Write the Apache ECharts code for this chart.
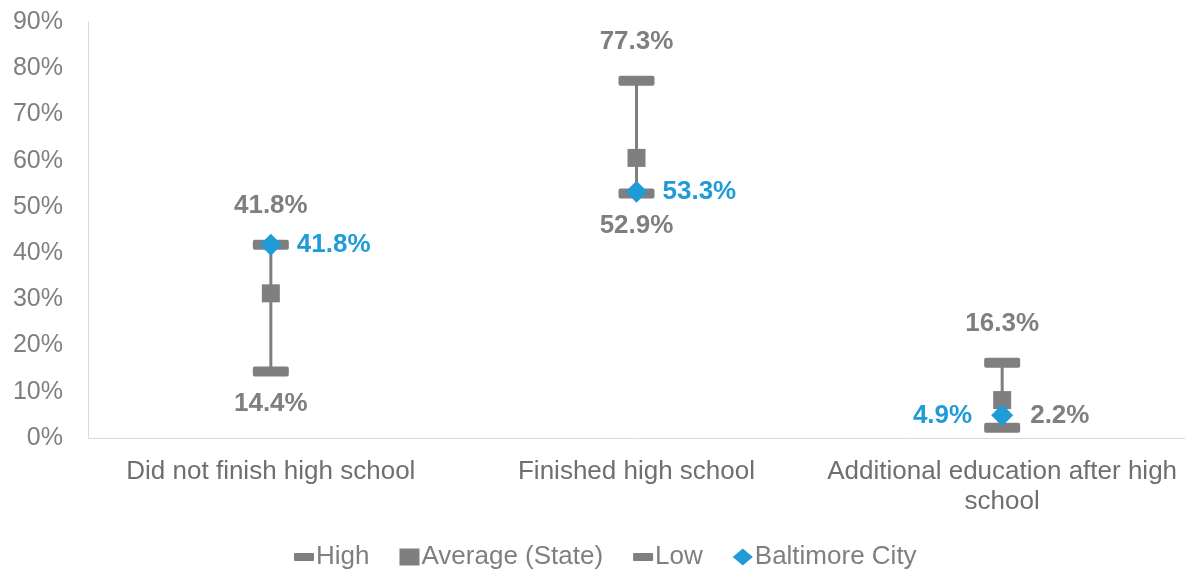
<!DOCTYPE html>
<html>
<head>
<meta charset="utf-8">
<script src="https://cdn.jsdelivr.net/npm/echarts@6/dist/echarts.min.js"></script>
<style>
  html, body { margin: 0; padding: 0; background: #fff; }
  #main { width: 1186px; height: 569px; }
</style>
</head>
<body>
<div id="main"></div>
<script>
var categories = ['Did not finish high school', 'Finished high school', 'Additional education after high\nschool'];
var highVals = [41.8, 77.3, 16.3];
var avgVals = [31.3, 60.6, 8.2];
var lowVals = [14.4, 52.9, 2.2];
var cityVals = [41.8, 53.3, 4.9];

var grey = '#7f7f7f';
var blue = '#1f9bd8';
var font = 'Liberation Sans, Arial, sans-serif';
var dash = 'path://M2,0h32a2,2 0 0 1 2,2v6a2,2 0 0 1 -2,2h-32a2,2 0 0 1 -2,-2v-6a2,2 0 0 1 2,-2z';
var legendDash = 'path://M1,0h18a1,1 0 0 1 1,1v6a1,1 0 0 1 -1,1h-18a1,1 0 0 1 -1,-1v-6a1,1 0 0 1 1,-1z';

var chart = echarts.init(document.getElementById('main'));

// low-high connecting lines
var rangeData = categories.map(function (c, i) {
    return [i, lowVals[i], highVals[i]];
});

var lowData = lowVals.map(function (v, i) {
    if (i == 2) {
        return {
            value: v,
            label: { position: 'right', distance: 10, offset: [0, -12] }
        };
    }
    return v;
});

var cityData = cityVals.map(function (v, i) {
    if (i == 2) {
        return { value: v, label: { position: 'left', distance: 19 } };
    }
    return v;
});

function pct(p) {
    return p.value.toFixed(1) + '%';
}

var option = {
    animation: false,
    grid: { left: 88, right: 1, top: 22, bottom: 131 },
    legend: {
        top: 539,
        left: 289,
        itemGap: 30,
        itemWidth: 20,
        itemHeight: 17,
        textStyle: { color: grey, fontSize: 26, fontFamily: font, padding: [0, 0, 0, -3] },
        data: [
            { name: 'High', icon: legendDash },
            { name: 'Average (State)', icon: 'rect' },
            { name: 'Low', icon: legendDash },
            { name: 'Baltimore City', icon: 'diamond' }
        ]
    },
    xAxis: {
        type: 'category',
        data: categories,
        axisLine: { lineStyle: { color: '#d9d9d9', width: 1 } },
        axisTick: { show: false },
        axisLabel: {
            color: '#6f6f6f', fontSize: 26, fontFamily: font, margin: 19,
            interval: 0, lineHeight: 30
        }
    },
    yAxis: {
        type: 'value',
        min: 0,
        max: 90,
        interval: 10,
        axisLine: { show: true, lineStyle: { color: '#d9d9d9', width: 1 } },
        splitLine: { show: false },
        axisLabel: {
            color: grey, fontSize: 25, fontFamily: font, margin: 25,
            formatter: '{value}%'
        }
    },
    series: [
        {
            name: 'range',
            type: 'custom',
            data: rangeData,
            z: 1,
            renderItem: function (params, api) {
                var p1 = api.coord([api.value(0), api.value(1)]);
                var p2 = api.coord([api.value(0), api.value(2)]);
                return {
                    type: 'line',
                    shape: { x1: p1[0], y1: p1[1], x2: p2[0], y2: p2[1] },
                    style: { stroke: grey, lineWidth: 3 }
                };
            }
        },
        {
            name: 'High',
            type: 'scatter',
            data: highVals,
            z: 2,
            symbol: dash,
            symbolSize: [36, 10],
            symbolKeepAspect: false,
            itemStyle: { color: grey, opacity: 1 },
            label: {
                show: true, position: 'top', distance: 21,
                color: grey, fontSize: 26, fontWeight: 'bold', fontFamily: font,
                formatter: pct
            }
        },
        {
            name: 'Average (State)',
            type: 'scatter',
            data: avgVals,
            z: 3,
            symbol: 'rect',
            symbolSize: 18,
            itemStyle: { color: grey, opacity: 1 }
        },
        {
            name: 'Low',
            type: 'scatter',
            data: lowData,
            z: 2,
            symbol: dash,
            symbolSize: [36, 10],
            symbolKeepAspect: false,
            itemStyle: { color: grey, opacity: 1 },
            label: {
                show: true, position: 'bottom', distance: 14,
                color: grey, fontSize: 26, fontWeight: 'bold', fontFamily: font,
                formatter: pct
            }
        },
        {
            name: 'Baltimore City',
            type: 'scatter',
            data: cityData,
            z: 4,
            symbol: 'diamond',
            symbolSize: 22,
            itemStyle: { color: blue, opacity: 1 },
            label: {
                show: true, position: 'right', distance: 15,
                color: blue, fontSize: 26, fontWeight: 'bold', fontFamily: font,
                formatter: pct
            }
        }
    ]
};

chart.setOption(option);
</script>
</body>
</html>
